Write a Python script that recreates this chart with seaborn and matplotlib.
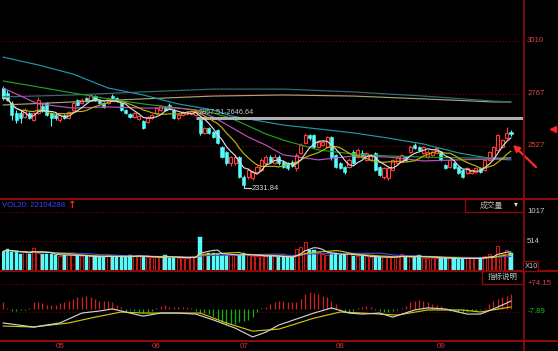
import numpy as np
import pandas as pd
import matplotlib
matplotlib.use('Agg')
import matplotlib.pyplot as plt
import matplotlib.transforms as mtrans
from matplotlib.lines import Line2D
from matplotlib.patches import Rectangle
import seaborn as sns

# ---------------- data ----------------
opens = [2793, 2770, 2724, 2678, 2678, 2660, 2678, 2646, 2678, 2711,
         2724, 2678, 2669, 2646, 2669, 2655, 2692, 2738, 2724, 2747,
         2738, 2756, 2738, 2724, 2724, 2756, 2747, 2724, 2692, 2674,
         2660, 2651, 2642, 2637, 2655, 2678, 2692, 2706, 2715, 2692,
         2655, 2669, 2674, 2674, 2669, 2646, 2587, 2609, 2591, 2600,
         2522, 2499, 2449, 2449, 2476, 2385, 2385, 2380, 2408, 2417,
         2449, 2476, 2449, 2476, 2453, 2449, 2453, 2426, 2495, 2541,
         2577, 2577, 2522, 2531, 2522, 2568, 2486, 2449, 2431, 2431,
         2499, 2476, 2495, 2463, 2463, 2495, 2431, 2385, 2380, 2417,
         2449, 2453, 2476, 2499, 2531, 2522, 2495, 2476, 2486, 2495,
         2499, 2440, 2431, 2449, 2431, 2417, 2403, 2403, 2408, 2426,
         2417, 2463, 2476, 2509, 2522, 2563, 2591]
closes = [2747, 2738, 2669, 2646, 2655, 2692, 2655, 2678, 2738, 2688,
          2669, 2655, 2655, 2669, 2655, 2683, 2724, 2715, 2738, 2733,
          2761, 2738, 2724, 2706, 2747, 2747, 2733, 2692, 2678, 2660,
          2678, 2665, 2609, 2660, 2669, 2701, 2711, 2692, 2701, 2655,
          2669, 2683, 2683, 2688, 2683, 2587, 2609, 2587, 2568, 2541,
          2476, 2449, 2476, 2476, 2385, 2348, 2417, 2408, 2431, 2463,
          2476, 2453, 2476, 2449, 2431, 2426, 2435, 2486, 2531, 2577,
          2563, 2522, 2545, 2545, 2568, 2476, 2431, 2426, 2408, 2463,
          2449, 2509, 2476, 2495, 2486, 2417, 2394, 2426, 2426, 2463,
          2476, 2486, 2463, 2522, 2518, 2509, 2522, 2499, 2499, 2518,
          2463, 2426, 2463, 2426, 2403, 2385, 2426, 2417, 2426, 2408,
          2463, 2499, 2522, 2577, 2554, 2587, 2582]
highs = [2802, 2784, 2733, 2692, 2692, 2701, 2683, 2683, 2752, 2720,
         2729, 2683, 2678, 2674, 2674, 2688, 2733, 2743, 2747, 2752,
         2766, 2761, 2743, 2729, 2752, 2766, 2752, 2729, 2697, 2678,
         2683, 2669, 2646, 2665, 2674, 2706, 2715, 2711, 2724, 2697,
         2674, 2688, 2688, 2692, 2688, 2651, 2614, 2614, 2596, 2605,
         2527, 2504, 2481, 2486, 2481, 2394, 2426, 2417, 2440, 2472,
         2486, 2486, 2490, 2486, 2463, 2453, 2463, 2495, 2541, 2587,
         2582, 2582, 2550, 2554, 2573, 2573, 2490, 2453, 2435, 2472,
         2509, 2518, 2509, 2499, 2490, 2499, 2435, 2431, 2431, 2467,
         2481, 2490, 2481, 2531, 2541, 2527, 2527, 2509, 2504, 2522,
         2504, 2444, 2467, 2453, 2435, 2421, 2431, 2421, 2431, 2431,
         2467, 2504, 2527, 2582, 2559, 2614, 2600]
lows = [2738, 2733, 2646, 2632, 2632, 2655, 2651, 2642, 2674, 2683,
        2665, 2619, 2646, 2637, 2651, 2651, 2688, 2711, 2720, 2729,
        2733, 2733, 2720, 2701, 2720, 2743, 2729, 2688, 2674, 2655,
        2655, 2646, 2605, 2632, 2651, 2674, 2688, 2688, 2697, 2651,
        2646, 2665, 2669, 2669, 2665, 2577, 2582, 2582, 2563, 2536,
        2472, 2440, 2435, 2440, 2380, 2331.84, 2375, 2371, 2398, 2412,
        2440, 2449, 2444, 2440, 2426, 2417, 2431, 2412, 2490, 2536,
        2554, 2518, 2518, 2527, 2518, 2463, 2426, 2421, 2398, 2426,
        2444, 2472, 2472, 2458, 2458, 2412, 2389, 2375, 2371, 2412,
        2444, 2449, 2458, 2495, 2513, 2504, 2490, 2472, 2481, 2490,
        2458, 2421, 2426, 2421, 2398, 2380, 2398, 2398, 2403, 2403,
        2412, 2458, 2472, 2504, 2518, 2559, 2573]
volumes = [335, 382, 324, 324, 295, 324, 295, 400, 313, 295,
           295, 284, 267, 250, 278, 295, 267, 256, 250, 256,
           250, 250, 238, 238, 278, 250, 250, 250, 238, 278,
           250, 267, 238, 233, 233, 238, 238, 267, 227, 227,
           227, 227, 227, 240, 256, 582, 307, 313, 307, 295,
           278, 278, 278, 267, 278, 307, 267, 256, 256, 256,
           250, 278, 250, 233, 233, 233, 233, 370, 410, 507,
           353, 365, 335, 295, 278, 295, 301, 278, 267, 313,
           256, 256, 256, 250, 238, 238, 238, 238, 238, 238,
           250, 295, 238, 238, 238, 278, 227, 227, 227, 221,
           221, 221, 221, 221, 210, 210, 221, 221, 221, 221,
           250, 295, 250, 427, 295, 353, 313]
macd_hist = [20, 5, -5, -4, -3, -3, 5, 20, 20, 17,
             13, 13, 13, 17, 20, 23, 30, 35, 35, 38,
             35, 30, 25, 25, 25, 22, 12, 7, -5, -3,
             -5, -8, -10, -8, -5, 5, 10, 12, 8, 8,
             8, 8, 8, 5, -5, -10, -12, -15, -20, -28,
             -38, -45, -43, -42, -38, -35, -30, -22, -8, 5,
             8, 15, 22, 25, 25, 22, 20, 20, 30, 45,
             50, 48, 45, 40, 35, 25, 15, -3, -8, -8,
             -5, 5, 8, 10, 8, -3, -5, -8, -8, -5,
             -3, 5, 10, 20, 25, 28, 25, 20, 15, 12,
             10, -3, -5, -5, -8, -10, -8, -6, -4, -3,
             5, 15, 25, 30, 35, 38, 45]

# long moving averages at sample days
ma_idx = [0, 8, 16, 24, 32, 40, 44, 48, 52, 56, 60, 64, 72, 80, 88, 96, 104, 112, 116]
ma20 = [2793, 2720, 2701, 2706, 2701, 2701, 2692, 2660, 2614, 2568, 2531, 2486, 2463, 2481, 2476, 2458, 2463, 2467, 2472]
ma30 = [2825, 2798, 2770, 2743, 2720, 2701, 2692, 2678, 2655, 2619, 2582, 2554, 2509, 2490, 2481, 2476, 2472, 2472, 2472]
ma60 = [2935, 2899, 2857, 2793, 2761, 2720, 2706, 2692, 2665, 2651, 2637, 2623, 2605, 2587, 2563, 2536, 2495, 2467, 2463]
long_idx = [0, 16, 32, 48, 64, 80, 96, 112, 116]
ma120 = [2752, 2761, 2775, 2788, 2788, 2775, 2756, 2733, 2729]
ma250 = [2715, 2729, 2743, 2756, 2761, 2756, 2743, 2729, 2729]

dif_idx = [0, 7, 13, 18, 22, 25, 28, 32, 36, 40, 44, 48, 53, 57, 60, 63, 71, 75, 79, 82, 86, 89, 94, 97, 101, 106, 109, 112, 116]
dif = [-40, -52, -40, -11, -5, 1, -8, -20, -11, -11, -14, -31, -55, -81, -67, -46, -11, 4, -11, -14, -11, -23, -2, 4, 1, -14, -14, 1, 24]
dea_idx = [0, 7, 15, 21, 27, 32, 40, 45, 51, 57, 63, 71, 77, 82, 90, 97, 105, 109, 116]
dea = [-49, -52, -40, -23, -8, -11, -11, -11, -40, -64, -58, -26, -8, -11, -17, -2, -2, -8, 7]

price_ticks = [3010, 2767, 2527]
vol_ticks = [1017, 514]
macd_ticks = [74.15, -7.89]
month_labels = ['05', '06', '07', '08', '09']
month_first_idx = [13, 35, 55, 77, 100]
gap_text = '2857.51-2646.64'
gap_level = 2655
gap_start_idx = 44
vol_header = 'VOL20: 22104288'

# ---------------- style ----------------
sns.set_theme(style='dark', rc={'axes.facecolor': 'black', 'figure.facecolor': 'black'})
plt.rcParams['font.family'] = ['Liberation Sans', 'Noto Sans CJK SC', 'DejaVu Sans']

RED = '#ff3a3a'
CYAN = '#54fcfc'
GRID = '#7a0000'
SEP = '#8c0a0a'
LW = 0.85

W, H = 558, 351
fig = plt.figure(figsize=(W / 100, H / 100), dpi=100, facecolor='black')


def ax_at(x0, y0, x1, y1):
    a = fig.add_axes([x0 / W, 1 - y1 / H, (x1 - x0) / W, (y1 - y0) / H])
    a.set_facecolor('black')
    for s in a.spines.values():
        s.set_visible(False)
    a.set_xticks([])
    a.set_yticks([])
    a.grid(False)
    return a


N = len(closes)
x = np.arange(N)
o = np.array(opens, float)
c = np.array(closes, float)
h = np.array(highs, float)
l = np.array(lows, float)
up = c >= o
XL = (-0.23, 118.74)

# ---------------- main price panel ----------------
ax = ax_at(2, 0, 523, 198)
ax.set_xlim(*XL)
ax.set_ylim(2288, 3197)
for v in price_ticks:
    ax.axhline(v, color=GRID, ls=(0, (1, 2)), lw=0.8, zorder=0)

ax.vlines(x[up], l[up], h[up], color=RED, lw=0.8, zorder=2)
ax.vlines(x[~up], l[~up], h[~up], color=CYAN, lw=0.8, zorder=2)
bot = np.minimum(o, c)
ht = np.maximum(np.abs(c - o), 2.0)
ax.bar(x[up], ht[up], bottom=bot[up], width=0.7, facecolor='black', edgecolor=RED, lw=0.8, zorder=3)
ax.bar(x[~up], ht[~up], bottom=bot[~up], width=0.7, facecolor=CYAN, edgecolor=CYAN, lw=0.4, zorder=3)

cs = pd.Series(c)
ma5 = cs.rolling(5, min_periods=1).mean()
ma10 = cs.rolling(10, min_periods=1).mean()
sns.lineplot(x=long_idx, y=ma250, ax=ax, color='#a8a27a', lw=LW, zorder=4, legend=False)
sns.lineplot(x=long_idx, y=ma120, ax=ax, color='#2f6f7a', lw=LW, zorder=4, legend=False)
sns.lineplot(x=ma_idx, y=ma60, ax=ax, color='#1a9aaa', lw=LW, zorder=4, legend=False)
sns.lineplot(x=ma_idx, y=ma30, ax=ax, color='#22a022', lw=LW, zorder=4, legend=False)
sns.lineplot(x=ma_idx, y=ma20, ax=ax, color='#c050c0', lw=LW, zorder=4, legend=False)
sns.lineplot(x=x, y=ma10, ax=ax, color='#bdb400', lw=LW, zorder=5, legend=False)
sns.lineplot(x=x, y=ma5, ax=ax, color='#dcdcdc', lw=LW, zorder=5, legend=False)

# gap band
ax.plot([gap_start_idx, XL[1]], [gap_level, gap_level], color='#b0b0b0', lw=2.2, zorder=4,
        solid_capstyle='butt')
ax.text(gap_start_idx + 0.6, gap_level + 26, gap_text, color='#c8c8c8', fontsize=5.2, va='center', zorder=6)

# lowest point annotation
li = int(np.argmin(l))
ax.plot([li, li + 1.6], [l[li], l[li]], color='#d8d8d8', lw=0.8, zorder=6)
ax.text(li + 1.7, l[li], f'{l[li]:.2f}', color='#d8d8d8', fontsize=5.4, va='center', zorder=6)

tr = mtrans.blended_transform_factory(ax.transAxes, ax.transData)
for v in price_ticks:
    ax.text(1.008, v, str(v), transform=tr, color='#d84848', fontsize=5.6, va='center', clip_on=False)
ax.set_xlabel('')
ax.set_ylabel('')

# ---------------- volume panel ----------------
axv = ax_at(2, 199, 523, 271)
axv.set_xlim(*XL)
axv.set_ylim(0, 1238)
for v in vol_ticks:
    axv.axhline(v, color=GRID, ls=(0, (1, 2)), lw=0.8, zorder=0)
vv = np.array(volumes, float)
axv.bar(x[up], vv[up], width=0.72, facecolor='black', edgecolor='#c81818', lw=0.8, zorder=2)
axv.bar(x[~up], vv[~up], width=0.72, facecolor=CYAN, edgecolor=CYAN, lw=0.3, zorder=2)
vs = pd.Series(vv)
sns.lineplot(x=x, y=vs.rolling(20, min_periods=1).mean(), ax=axv, color='#4848e0', lw=LW, zorder=3, legend=False)
sns.lineplot(x=x, y=vs.rolling(10, min_periods=1).mean(), ax=axv, color='#c8c000', lw=LW, zorder=3, legend=False)
sns.lineplot(x=x, y=vs.rolling(5, min_periods=1).mean(), ax=axv, color='#d8d8d8', lw=0.8, zorder=3, legend=False)
trv = mtrans.blended_transform_factory(axv.transAxes, axv.transData)
for v in vol_ticks:
    axv.text(1.008, v, str(v), transform=trv, color='#c8c8c8', fontsize=5.6, va='center', clip_on=False)
axv.set_xlabel('')
axv.set_ylabel('')

# ---------------- MACD panel ----------------
axm = ax_at(2, 272, 523, 341)
axm.set_xlim(*XL)
axm.set_ylim(-92.9, 109.3)
for v in macd_ticks:
    axm.axhline(v, color=GRID, ls=(0, (1, 2)), lw=0.8, zorder=0)
hh = np.array(macd_hist, float)
pos = hh >= 0
axm.vlines(x[pos], 0, hh[pos], color='#d02020', lw=0.9, zorder=2)
axm.vlines(x[~pos], hh[~pos], 0, color='#10b010', lw=0.9, zorder=2)
sns.lineplot(x=dea_idx, y=dea, ax=axm, color='#c8c800', lw=LW, zorder=3, legend=False)
sns.lineplot(x=dif_idx, y=dif, ax=axm, color='#d0d0d0', lw=LW, zorder=4, legend=False)
trm = mtrans.blended_transform_factory(axm.transAxes, axm.transData)
axm.text(1.008, macd_ticks[0], '+%.2f' % macd_ticks[0], transform=trm, color='#e04040', fontsize=5.6,
         va='center', clip_on=False)
axm.text(1.008, macd_ticks[1], '%.2f' % macd_ticks[1], transform=trm, color='#20c020', fontsize=5.6,
         va='center', clip_on=False)
axm.set_xlabel('')
axm.set_ylabel('')
trd = mtrans.blended_transform_factory(axm.transData, axm.transAxes)
for lab, idx in zip(month_labels, month_first_idx):
    axm.text(idx, -0.075, lab, transform=trd, color='#d83030', fontsize=5.8, ha='center', va='center',
             clip_on=False)

# ---------------- frame lines, boxes, texts ----------------
def hline(y, x0=0, x1=W, color=SEP, lw=1.5):
    fig.add_artist(Line2D([x0 / W, x1 / W], [1 - y / H, 1 - y / H], transform=fig.transFigure,
                          color=color, lw=lw))


def vline(xp, y0=0, y1=H, color=SEP, lw=1.2):
    fig.add_artist(Line2D([xp / W, xp / W], [1 - y0 / H, 1 - y1 / H], transform=fig.transFigure,
                          color=color, lw=lw))


hline(198.5)
hline(271.3)
hline(341.3)
vline(523.5)


def box(x0, y0, x1, y1):
    fig.add_artist(Rectangle((x0 / W, 1 - y1 / H), (x1 - x0) / W, (y1 - y0) / H, transform=fig.transFigure,
                             facecolor='black', edgecolor=SEP, lw=1.0, zorder=5))


box(465, 199, 523, 212)
fig.text(491 / W, 1 - 205.5 / H, '成交量', color='#b8b8b8', fontsize=5.6, ha='center', va='center', zorder=6)
fig.text(516 / W, 1 - 205 / H, '▾', color='#e0e0e0', fontsize=5.5, ha='center', va='center', zorder=6)
box(482, 271, 523, 284)
fig.text(502.5 / W, 1 - 277.5 / H, '指标说明', color='#c0c0c0', fontsize=5.4, ha='center', va='center', zorder=6)
box(523, 261, 538, 271)
fig.text(525 / W, 1 - 266 / H, 'X10', color='#c8c8c8', fontsize=5.4, va='center', zorder=6)

fig.text(2 / W, 1 - 205.5 / H, vol_header, color='#4040ff', fontsize=5.6, va='center')
fig.text(67.5 / W, 1 - 205.5 / H, '↑', color='#ff2020', fontsize=7.5, fontweight='bold', va='center',
         family=['DejaVu Sans'])

# red marker on the right and arrow pointing to the last candle
fig.add_artist(Line2D([553 / W], [1 - 129.5 / H], marker='<', markersize=4.2, color='#ff2020',
                      transform=fig.transFigure, lw=0))
ax.annotate('', xy=(511, H - 143), xytext=(538, H - 169), xycoords='figure pixels',
            textcoords='figure pixels', annotation_clip=False,
            arrowprops=dict(arrowstyle='-|>', color='#ff2a2a', lw=1.6, mutation_scale=9))

fig.savefig('out.png', dpi=100, facecolor='black')
